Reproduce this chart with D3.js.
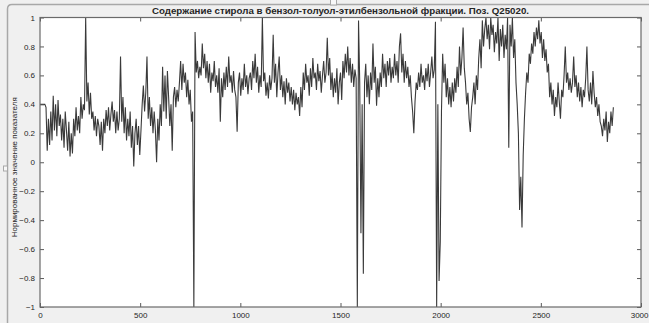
<!DOCTYPE html>
<html>
<head>
<meta charset="utf-8">
<script src="https://cdn.jsdelivr.net/npm/d3@7"></script>
<style>
  html, body { margin: 0; padding: 0; background: #f0f0f0; }
  svg { display: block; }
  text { font-family: "Liberation Sans", Arial, sans-serif; fill: #262626; }
</style>
</head>
<body>
<svg id="chart"></svg>
<script>
// chart texts
const chartTitle = 'Содержание стирола в бензол-толуол-этилбензольной фракции. Поз. Q25020.';
const yTitle = 'Нормированное значение показателя';

// axis ticks
const xTicks = [0, 500, 1000, 1500, 2000, 2500, 3000];
const yTicks = [-1, -0.8, -0.6, -0.4, -0.2, 0, 0.2, 0.4, 0.6, 0.8, 1];

// one reading every sampleStep points of the record
const sampleStep = 6;
const styreneValues = [
  0.40, 0.40, 0.40, 0.40, 0.40, 0.38, 0.08, 0.30, 0.12, 0.35,
  0.15, 0.46, 0.22, 0.40, 0.18, 0.43, 0.25, 0.33, 0.15, 0.30,
  0.10, 0.35, 0.22, 0.08, 0.28, 0.04, 0.20, 0.06, 0.30, 0.18,
  0.38, 0.22, 0.32, 0.20, 0.45, 0.30, 0.40, 0.36, 1.00, 0.42,
  0.55, 0.33, 0.48, 0.30, 0.35, 0.22, 0.32, 0.18, 0.30, 0.25,
  0.12, 0.28, 0.08, 0.30, 0.20, 0.36, 0.25, 0.38, 0.22, 0.33,
  0.42, 0.28, 0.36, 0.20, 0.35, 0.22, 0.30, 0.73, 0.28, 0.45,
  0.20, 0.38, 0.15, 0.30, 0.18, 0.35, 0.10, 0.25, -0.03, 0.20,
  0.30, 0.12, 0.25, 0.05, 0.22, 0.40, 0.53, 0.35, 0.48, 0.73,
  0.30, 0.45, 0.25, 0.38, 0.20, 0.35, 0.22, 0.00, 0.30, 0.15,
  0.40, 0.25, 0.66, 0.35, 0.60, 0.30, 0.63, 0.45, 0.25, 0.40,
  0.08, 0.45, 0.52, 0.38, 0.50, 0.42, 0.55, 0.70, 0.50, 0.68,
  0.55, 0.62, 0.45, 0.57, 0.40, 0.50, 0.28, 0.35, -1.00, 0.90,
  0.62, 0.70, 0.58, 0.66, 0.60, 0.82, 0.65, 0.75, 0.58, 0.70,
  0.55, 0.68, 0.48, 0.62, 0.56, 0.70, 0.52, 0.60, 0.48, 0.65,
  0.28, 0.58, 0.45, 0.62, 0.50, 0.66, 0.52, 0.73, 0.55, 0.60,
  0.48, 0.63, 0.50, 0.45, 0.21, 0.55, 0.62, 0.46, 0.58, 0.50,
  0.68, 0.52, 0.60, 0.47, 0.58, 0.62, 0.50, 0.70, 0.58, 0.75,
  0.55, 0.66, 0.48, 0.60, 0.52, 1.00, 0.56, 0.62, 0.46, 0.55,
  0.44, 0.60, 0.50, 0.58, 0.88, 0.55, 0.68, 0.45, 0.62, 0.73,
  0.50, 0.60, 0.45, 0.56, 0.40, 0.58, 0.48, 0.55, 0.42, 0.52,
  0.40, 0.50, 0.36, 0.48, 0.40, 0.45, 0.32, 0.52, 0.38, 0.62,
  0.50, 0.68, 0.55, 0.60, 0.46, 0.65, 0.52, 0.72, 0.58, 0.62,
  0.50, 0.68, 0.56, 0.63, 0.48, 0.60, 0.70, 0.55, 0.62, 0.86,
  0.60, 0.72, 0.50, 0.62, 0.45, 0.58, 0.48, 0.65, 0.40, 0.55,
  0.62, 0.43, 0.70, 0.58, 0.75, 0.62, 0.80, 0.60, 0.72, 0.55,
  0.68, 0.52, 0.64, 0.58, -1.00, 0.98, 0.55, -0.49, 0.40, -0.77,
  0.55, 0.68, 0.45, 0.60, 0.40, 0.62, 0.50, 0.82, 0.55, 0.66,
  0.39, 0.58, 0.45, 0.62, 0.52, 0.75, 0.58, 0.68, 0.52, 0.70,
  0.60, 0.72, 0.55, 0.66, 0.58, 0.75, 0.60, 0.70, 0.55, 0.80,
  0.89, 0.62, 0.75, 0.55, 0.70, 0.58, 0.66, 0.52, 0.60, 0.45,
  0.35, 0.20, 0.42, 0.55, 0.50, 0.62, 0.52, 0.68, 0.55, 0.60,
  0.50, 0.65, 0.56, 0.68, 0.52, 0.62, 0.73, 0.58, 0.64, 0.97,
  -1.00, 0.40, -0.82, -0.55, 0.35, 0.75, 0.55, 0.68, 0.45, 0.58,
  0.40, 0.52, 0.38, 0.55, 0.42, 0.58, 0.48, 0.66, 0.52, 0.80,
  0.60, 0.72, 0.93, 0.65, 0.55, 0.40, 0.48, 0.30, 0.21, 0.38,
  0.45, 0.55, 0.40, 0.60, 0.50, 0.72, 0.85, 0.65, 0.98, 0.80,
  0.92, 1.00, 0.85, 0.95, 0.78, 1.00, 0.88, 0.95, 0.76, 0.90,
  0.82, 1.00, 0.70, 0.92, 0.80, 0.95, 0.72, 0.88, 0.78, 1.00,
  0.10, 0.95, 0.80, 1.00, 0.72, 0.85, 0.55, 0.40, 0.20, -0.33,
  -0.10, -0.45, 0.05, 0.30, 0.48, 0.62, 0.55, 0.75, 0.68, 0.82,
  0.75, 0.90, 0.80, 0.93, 0.85, 0.98, 0.82, 0.90, 0.72, 0.85,
  0.70, 0.78, 0.62, 0.68, 0.45, 0.55, 0.40, 0.50, 0.32, 0.45,
  0.38, 0.55, 0.42, 0.30, 0.50, 0.45, 0.60, 0.80, 0.55, 0.62,
  0.50, 0.58, 0.48, 0.55, 0.73, 0.52, 0.60, 0.45, 0.55, 0.42,
  0.52, 0.38, 0.50, 0.45, 0.58, 0.80, 0.50, 0.42, 0.55, 0.40,
  0.63, 0.48, 0.38, 0.45, 0.32, 0.40, 0.28, 0.25, 0.18, 0.30,
  0.22, 0.35, 0.14, 0.28, 0.20, 0.35, 0.25, 0.38
];

const W = 649, H = 323;
const plot = {left: 40, right: 641, top: 17.5, bottom: 307};

const svg = d3.select('#chart')
  .attr('width', W)
  .attr('height', H);

// figure window background + edge
svg.append('rect')
  .attr('width', W).attr('height', H)
  .attr('fill', '#f0f0f0');
svg.append('path')
  .attr('d', `M7.5,${H} L7.5,9 Q7.5,4.5 12,4.5 L${W},4.5`)
  .attr('fill', 'none')
  .attr('stroke', '#a8a8a8')
  .attr('stroke-width', 1.5);
// small window notches
svg.append('rect')
  .attr('x', 330.5).attr('y', -1).attr('width', 6).attr('height', 6)
  .attr('fill', '#f8f8f8').attr('stroke', '#a8a8a8');
svg.append('rect')
  .attr('x', 3.5).attr('y', 166).attr('width', 4).attr('height', 5)
  .attr('fill', '#f8f8f8').attr('stroke', '#a8a8a8');

const x = d3.scaleLinear().domain([0, 3000]).range([plot.left, plot.right]);
const y = d3.scaleLinear().domain([-1, 1]).range([plot.bottom, plot.top]);

// axes area
svg.append('rect')
  .attr('x', plot.left).attr('y', plot.top)
  .attr('width', plot.right - plot.left)
  .attr('height', plot.bottom - plot.top)
  .attr('fill', '#fff');

svg.append('clipPath').attr('id', 'clip')
  .append('rect')
  .attr('x', plot.left).attr('y', plot.top)
  .attr('width', plot.right - plot.left)
  .attr('height', plot.bottom - plot.top);

// the trace
const line = d3.line()
  .x((d, i) => x(i * sampleStep))
  .y(d => y(d));

svg.append('path')
  .datum(styreneValues)
  .attr('clip-path', 'url(#clip)')
  .attr('d', line)
  .attr('fill', 'none')
  .attr('stroke', '#3a3a3a')
  .attr('stroke-width', 1.1);

// axes, ticks pointing inward like MATLAB
const fmt = d => d3.format('~g')(d);

const styleAxis = g => {
  g.select('.domain').remove();
  g.selectAll('line').attr('stroke', '#5a5a5a');
  g.selectAll('text')
    .style('font-family', '"Liberation Sans", Arial, sans-serif')
    .style('font-size', '8px')
    .attr('fill', '#333');
};

const xAxis = svg.append('g')
  .attr('transform', `translate(0,${plot.bottom})`)
  .call(d3.axisBottom(x).tickValues(xTicks).tickSizeInner(-4).tickSizeOuter(0).tickPadding(5).tickFormat(fmt))
  .call(styleAxis);
// last label sits against the window edge
xAxis.selectAll('.tick text')
  .filter(d => d === 3000)
  .attr('text-anchor', 'end')
  .attr('x', W - 1 - x(3000));

svg.append('g')
  .attr('transform', `translate(0,${plot.top})`)
  .call(d3.axisTop(x).tickValues(xTicks).tickSizeInner(-4).tickSizeOuter(0).tickFormat(''))
  .call(styleAxis);

svg.append('g')
  .attr('transform', `translate(${plot.left},0)`)
  .call(d3.axisLeft(y).tickValues(yTicks).tickSizeInner(-4).tickSizeOuter(0).tickPadding(5).tickFormat(fmt))
  .call(styleAxis);

svg.append('g')
  .attr('transform', `translate(${plot.right},0)`)
  .call(d3.axisRight(y).tickValues(yTicks).tickSizeInner(-4).tickSizeOuter(0).tickFormat(''))
  .call(styleAxis);

// box
svg.append('rect')
  .attr('x', plot.left).attr('y', plot.top)
  .attr('width', plot.right - plot.left)
  .attr('height', plot.bottom - plot.top)
  .attr('fill', 'none')
  .attr('stroke', '#6a6a6a')
  .attr('stroke-width', 1.2);

// title
svg.append('text')
  .attr('x', (plot.left + plot.right) / 2)
  .attr('y', 14)
  .attr('text-anchor', 'middle')
  .style('font-size', '8.6px')
  .style('font-weight', 'bold')
  .attr('textLength', 377)
  .attr('lengthAdjust', 'spacingAndGlyphs')
  .text(chartTitle);

// y axis title
svg.append('text')
  .attr('transform', `translate(16.5,${(plot.top + plot.bottom) / 2 + 5}) rotate(-90)`)
  .attr('text-anchor', 'middle')
  .style('font-size', '7.6px')
  .attr('textLength', 140)
  .attr('lengthAdjust', 'spacingAndGlyphs')
  .text(yTitle);
</script>
</body>
</html>
